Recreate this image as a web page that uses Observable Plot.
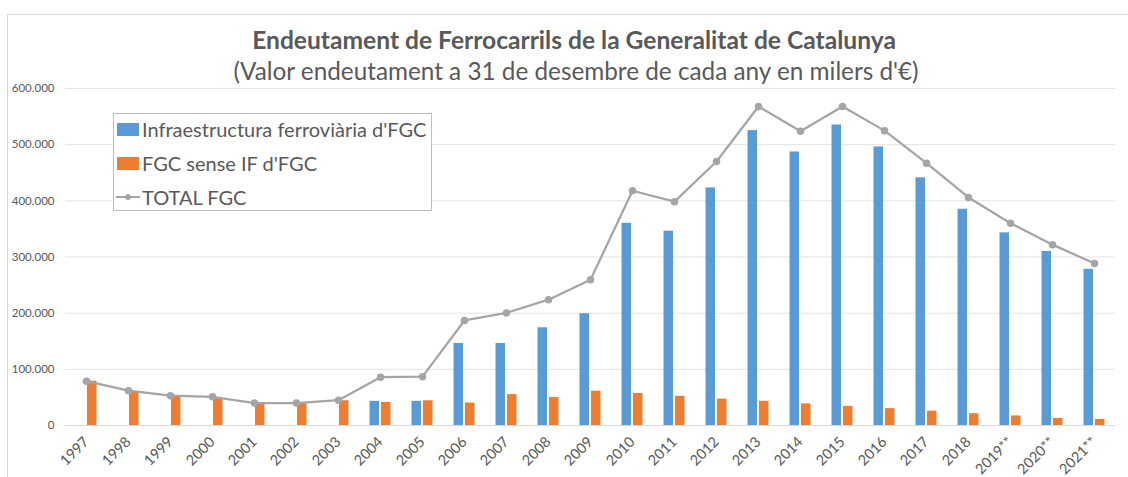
<!DOCTYPE html>
<html><head><meta charset="utf-8">
<script src="https://cdn.jsdelivr.net/npm/d3@7"></script>
<script src="https://cdn.jsdelivr.net/npm/@observablehq/plot@0.6"></script>
<style>
body{margin:0;background:#fff;font-family:Lato,"Open Sans",sans-serif;}
#wrap{position:relative;width:1128px;height:477px;overflow:hidden;background:#fff;}
#frame{position:absolute;left:7px;top:14px;width:1300px;height:700px;border-left:1px solid #d9d9d9;border-top:1px solid #d9d9d9;}
#chart{position:absolute;left:0;top:0;}
.ttl{position:absolute;left:10px;width:1128px;text-align:center;color:#595959;white-space:nowrap;line-height:1;}
#title{top:28px;font-weight:bold;font-size:24.6px;}
#subtitle{top:59px;font-size:24.3px;left:12px;}
#legend{position:absolute;left:113px;top:113px;width:317px;height:96px;border:1px solid #bfbfbf;background:#fff;}
.lg{position:absolute;left:28px;font-size:20px;color:#595959;white-space:nowrap;line-height:1;}
.sw{position:absolute;left:3px;width:22px;height:12.5px;}
</style></head>
<body><div id="wrap"><div id="frame"></div><div id="chart"></div>
<div id="title" class="ttl">Endeutament de Ferrocarrils de la Generalitat de Catalunya</div>
<div id="subtitle" class="ttl">(Valor endeutament a 31 de desembre de cada any en milers d'€)</div>
<div id="legend"></div>
</div>
<script>
const years = ["1997","1998","1999","2000","2001","2002","2003","2004","2005","2006","2007","2008","2009","2010","2011","2012","2013","2014","2015","2016","2017","2018","2019**","2020**","2021**"];
const infra = [null,null,null,null,null,null,null,43000,43000,146000,146000,174000,199000,360000,346000,423000,525000,487000,535000,496000,441000,385000,343000,310000,278000];
const senseIF = [79000,60000,52000,48000,39000,39000,44000,41000,44000,40000,55000,50000,61000,57000,52000,47000,43000,38500,34000,30000,25500,21000,17000,12500,10700];
const total = [79000,62000,53000,51000,40000,40000,45000,86000,87000,187000,200500,224000,259500,418000,398500,470000,568000,524000,568000,525000,467000,406000,360000,322000,288500];
const yTicks = [0,100000,200000,300000,400000,500000,600000];
const seriesNames = ["Infraestructura ferroviària d'FGC","FGC sense IF d'FGC","TOTAL FGC"];
const colors = ["#5B9BD5","#ED7D31","#A5A5A5"];

const rows = years.map((y,i)=>({year:y, infra:infra[i], sense:senseIF[i], total:total[i]}));
const fmt = d => d===0 ? "0" : d3.format(",")(d).replace(/,/g,".");

const chart = Plot.plot({
  width:1128, height:477,
  marginTop:88, marginBottom:52, marginLeft:65, marginRight:13,
  style:{fontFamily:"Lato, 'Open Sans', sans-serif", background:"transparent"},
  x:{type:"band", domain:years, padding:0},
  y:{domain:[0,600000]},
  marks:[
    Plot.ruleY(yTicks.slice(1), {stroke:"#e3e3e3", strokeWidth:1}),
    Plot.ruleY([0], {stroke:"#d9d9d9", strokeWidth:1}),
    Plot.barY(rows.filter(d=>d.infra!=null), {x:"year", y:"infra", fill:colors[0], insetLeft:10.5, insetRight:22}),
    Plot.barY(rows, {x:"year", y:"sense", fill:colors[1], insetLeft:22, insetRight:10.5}),
    Plot.line(rows, {x:"year", y:"total", stroke:colors[2], strokeWidth:2.25}),
    Plot.dot(rows, {x:"year", y:"total", fill:colors[2], r:3.75}),
    Plot.axisY(yTicks, {tickSize:0, tickPadding:11, tickFormat:fmt, fontSize:11.5, color:"#595959", label:null}),
    Plot.axisX({tickSize:0, tickRotate:-45, tickPadding:14, fontSize:14.5, color:"#595959", label:null})
  ]
});
document.getElementById("chart").appendChild(chart);

const lg = document.getElementById("legend");
const tops = [4.5, 38.5, 72.5];
const swTops = [9, 43];
seriesNames.forEach((n,i)=>{
  const t = document.createElement("div");
  t.className="lg"; t.textContent=n; t.style.top=(tops[i])+"px";
  lg.appendChild(t);
  if(i<2){
    const s=document.createElement("div"); s.className="sw";
    s.style.background=colors[i]; s.style.top=swTops[i]+"px"; lg.appendChild(s);
  } else {
    const s=document.createElementNS("http://www.w3.org/2000/svg","svg");
    s.setAttribute("width","24"); s.setAttribute("height","10");
    s.style.position="absolute"; s.style.left="2px"; s.style.top="78px";
    s.innerHTML='<line x1="0" y1="5" x2="24" y2="5" stroke="'+colors[2]+'" stroke-width="2"/><circle cx="12" cy="5" r="3" fill="'+colors[2]+'"/>';
    lg.appendChild(s);
  }
});
</script></body></html>
